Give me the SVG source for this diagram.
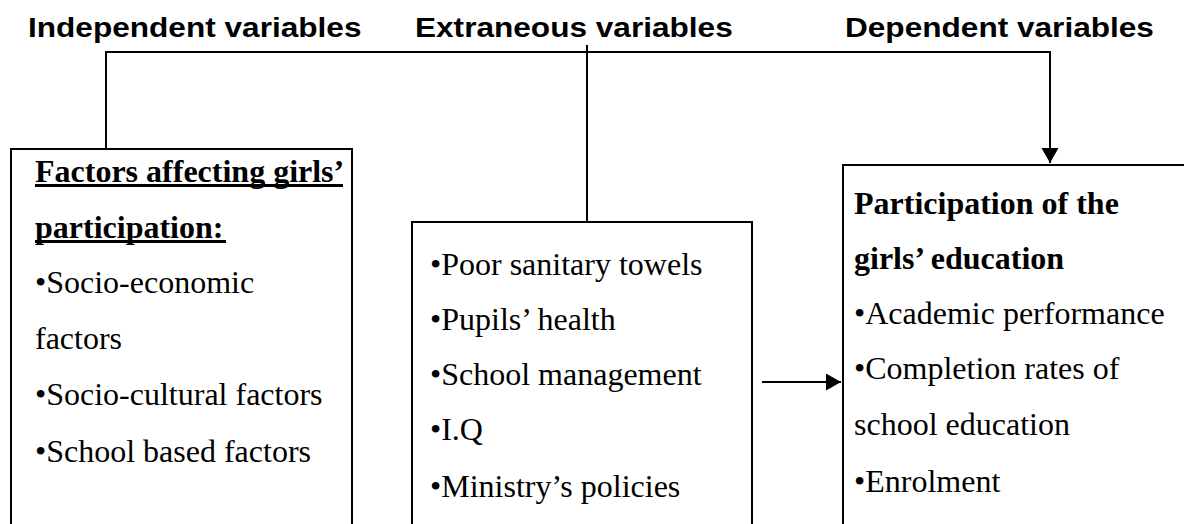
<svg xmlns="http://www.w3.org/2000/svg" width="1184" height="524" viewBox="0 0 1184 524">
  <style>
    .head { font-family: "Liberation Sans", Arial, sans-serif; font-weight: bold; font-size: 31.6px; fill: #000; }
    .body { font-family: "Liberation Serif", "Times New Roman", serif; font-size: 32px; fill: #000; }
    .bold { font-weight: bold; }
    .box { fill: #fff; stroke: #000; stroke-width: 2; }
    .wire { fill: none; stroke: #000; stroke-width: 2; }
    .uline { stroke: #000; stroke-width: 3; }
  </style>
  <defs>
    <marker id="arrow" markerUnits="userSpaceOnUse" markerWidth="16" markerHeight="18" refX="15" refY="8.5" orient="auto">
      <path d="M0,0 L15,8.5 L0,17 Z" fill="#000"/>
    </marker>
  </defs>

  <rect width="1184" height="524" fill="#fff"/>

  <!-- column headings (slightly condensed vertically) -->
  <g id="headings" transform="translate(0,37) scale(1,0.9)">
    <text class="head" x="28" y="0">Independent variables</text>
    <text class="head" x="415" y="0">Extraneous variables</text>
    <text class="head" x="845" y="0">Dependent variables</text>
  </g>

  <!-- connectors -->
  <g id="connectors">
    <path class="wire" d="M106,149 V52 H1050 V163" marker-end="url(#arrow)"/>
    <line class="wire" x1="587" y1="45" x2="587" y2="222"/>
    <line class="wire" x1="762" y1="382" x2="841" y2="382" marker-end="url(#arrow)"/>
  </g>

  <!-- independent variables box -->
  <g id="independent">
    <rect class="box" x="11" y="149" width="341" height="400"/>
    <text class="body bold" x="35" y="182">Factors affecting girls’</text>
    <line class="uline" x1="35" y1="185.5" x2="343" y2="185.5"/>
    <text class="body bold" x="35" y="238">participation:</text>
    <line class="uline" x1="35" y1="241.5" x2="226" y2="241.5"/>
    <text class="body" x="35" y="293">•Socio-economic</text>
    <text class="body" x="35" y="349">factors</text>
    <text class="body" x="35" y="405">•Socio-cultural factors</text>
    <text class="body" x="35" y="462">•School based factors</text>
  </g>

  <!-- extraneous variables box -->
  <g id="extraneous">
    <rect class="box" x="412" y="222" width="340" height="340"/>
    <text class="body" x="430" y="275">•Poor sanitary towels</text>
    <text class="body" x="430" y="330">•Pupils’ health</text>
    <text class="body" x="430" y="385">•School management</text>
    <text class="body" x="430" y="440">•I.Q</text>
    <text class="body" x="430" y="497">•Ministry’s policies</text>
  </g>

  <!-- dependent variables box -->
  <g id="dependent">
    <rect class="box" x="843" y="165" width="400" height="400"/>
    <text class="body bold" x="854" y="214">Participation of the</text>
    <text class="body bold" x="854" y="269">girls’ education</text>
    <text class="body" x="854" y="324">•Academic performance</text>
    <text class="body" x="854" y="379">•Completion rates of</text>
    <text class="body" x="854" y="435">school education</text>
    <text class="body" x="854" y="492">•Enrolment</text>
  </g>
</svg>
